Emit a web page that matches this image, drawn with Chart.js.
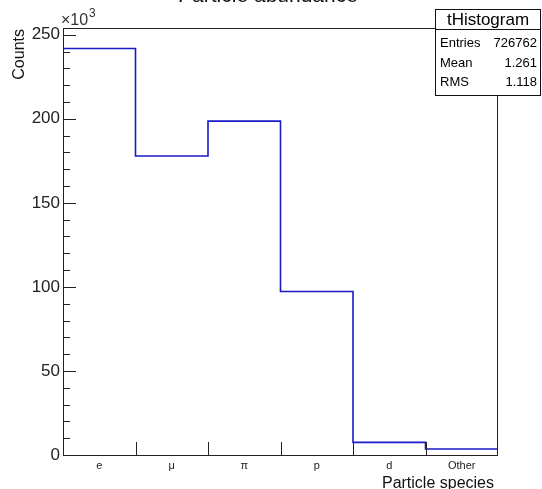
<!DOCTYPE html>
<html lang="en">
<head>
    <meta charset="UTF-8">
    <title>Particle abundance</title>
    <script src="https://cdn.jsdelivr.net/npm/chart.js"></script>
    <style>
        html, body { margin: 0; padding: 0; background: #fff; }
        #wrap { width: 542px; height: 489px; }
    </style>
</head>
<body>
    <div id="wrap"><canvas id="histChart" width="542" height="489"></canvas></div>
    <script>
        // bin labels and contents (counts in thousands)
        var species = ['e', '\u03bc', '\u03c0', 'p', 'd', 'Other'];
        var countsK = [241.8, 177.9, 198.6, 97.3, 7.5, 3.6];
        var yTicks = [0, 50, 100, 150, 200, 250];
        var stats = [['Entries', '726762'], ['Mean', '1.261'], ['RMS', '1.118']];

        var FONT = '"Liberation Sans", Arial, sans-serif';

        // step outline: one point per bin edge
        var points = [];
        for (var i = 0; i < countsK.length; i++) {
            points.push({x: i, y: countsK[i]});
        }
        points.push({x: countsK.length, y: countsK[countsK.length - 1]});

        var rootStyle = {
            id: 'rootStyle',
            afterDraw: function (chart) {
                var c = chart.ctx, a = chart.chartArea;
                var xs = chart.scales.x, ys = chart.scales.y;
                c.save();
                c.strokeStyle = '#222';
                c.lineWidth = 1;
                // frame
                c.strokeRect(a.left + 0.5, a.top + 0.5, a.right - a.left - 1, a.bottom - a.top);
                // y ticks, major every 50, minor every 10
                c.beginPath();
                for (var v = 0; v <= ys.max; v += 10) {
                    var py = Math.round(ys.getPixelForValue(v)) + 0.5;
                    var len = (v % 50 === 0) ? 13 : 7;
                    c.moveTo(a.left, py);
                    c.lineTo(a.left + len, py);
                }
                // x ticks at bin edges
                for (var k = 1; k < species.length; k++) {
                    var px = Math.round(xs.getPixelForValue(k)) + 0.5;
                    c.moveTo(px, a.bottom);
                    c.lineTo(px, a.bottom - 13);
                }
                c.stroke();

                // title (mostly off the top of the canvas)
                c.fillStyle = '#111';
                c.font = '21px ' + FONT;
                c.textAlign = 'center';
                c.textBaseline = 'alphabetic';
                c.fillText('Particle abundance', 268, 2);

                // exponent
                c.textAlign = 'left';
                c.font = '16px ' + FONT;
                c.fillStyle = '#333';
                c.fillText('\u00d710', 61, 25);
                c.font = '12px ' + FONT;
                c.fillText('3', 89, 17);

                // axis titles
                c.font = '16px ' + FONT;
                c.fillStyle = '#111';
                c.textAlign = 'right';
                c.fillText('Particle species', 494, 488);
                c.save();
                c.translate(24, 29);
                c.rotate(-Math.PI / 2);
                c.fillText('Counts', 0, 0);
                c.restore();

                // stats box
                var bx = 435, by = 9, bw = 106, bh = 86;
                c.fillStyle = '#fff';
                c.fillRect(bx, by, bw, bh);
                c.strokeStyle = '#111';
                c.strokeRect(bx + 0.5, by + 0.5, bw - 1, bh);
                c.beginPath();
                c.moveTo(bx, 29.5);
                c.lineTo(bx + bw, 29.5);
                c.stroke();
                c.fillStyle = '#000';
                c.font = '17px ' + FONT;
                c.textAlign = 'center';
                c.fillText('tHistogram', bx + bw / 2, 25);
                c.font = '13px ' + FONT;
                for (var r = 0; r < stats.length; r++) {
                    var ty = 47 + r * 19.5;
                    c.textAlign = 'left';
                    c.fillText(stats[r][0], bx + 5, ty);
                    c.textAlign = 'right';
                    c.fillText(stats[r][1], bx + bw - 4, ty);
                }
                c.restore();
            }
        };

        var ctx = document.getElementById('histChart').getContext('2d');
        var histChart = new Chart(ctx, {
            type: 'line',
            data: {
                datasets: [{
                    label: 'tHistogram',
                    data: points,
                    stepped: 'before',
                    borderColor: '#1a1ac8',
                    borderWidth: 1.6,
                    pointRadius: 0,
                    fill: false
                }]
            },
            options: {
                responsive: false,
                animation: false,
                layout: { padding: { left: 0, right: 44, top: 28, bottom: 0 } },
                plugins: {
                    legend: { display: false },
                    tooltip: { enabled: false },
                    title: { display: false }
                },
                scales: {
                    x: {
                        type: 'linear',
                        min: 0,
                        max: species.length,
                        grid: { display: false, drawTicks: false },
                        border: { display: false },
                        afterBuildTicks: function (scale) {
                            scale.ticks = species.map(function (s, i) { return {value: i + 0.5}; });
                        },
                        afterFit: function (scale) { scale.height = 34; },
                        ticks: {
                            autoSkip: false,
                            maxRotation: 0,
                            padding: 4,
                            color: '#222',
                            font: { family: FONT, size: 11 },
                            callback: function (v) { return species[Math.floor(v)]; }
                        }
                    },
                    y: {
                        min: 0,
                        max: 254,
                        grid: { display: false, drawTicks: false },
                        border: { display: false },
                        afterBuildTicks: function (scale) {
                            scale.ticks = yTicks.map(function (v) { return {value: v}; });
                        },
                        afterFit: function (scale) { scale.width = 63; },
                        ticks: {
                            padding: 3,
                            color: '#222',
                            font: { family: FONT, size: 17 }
                        }
                    }
                }
            },
            plugins: [rootStyle]
        });
    </script>
</body>
</html>
